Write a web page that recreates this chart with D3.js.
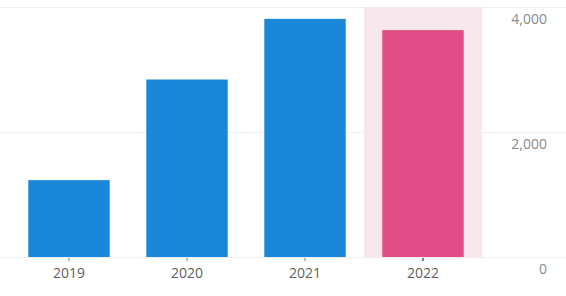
<!DOCTYPE html>
<html>
<head>
<style>
  body { margin: 0; background: #fff; }
  text { font-family: "Open Sans", "Noto Sans", sans-serif; }
</style>
</head>
<body>
<script src="https://cdn.jsdelivr.net/npm/d3@7/dist/d3.min.js"></script>
<script>
  var years = ["2019", "2020", "2021", "2022"];
  var values = [1230, 2840, 3810, 3630];
  var yTicks = [0, 2000, 4000];
  var highlightYear = "2022";

  var W = 566, H = 296;
  var svg = d3.select("body").append("svg")
      .attr("width", W)
      .attr("height", H);

  // band positions: plot runs x 10..482
  var x = d3.scaleBand()
      .domain(years)
      .range([10, 482])
      .paddingInner(0.31)
      .paddingOuter(0.155);
  var xFull = d3.scaleBand().domain(years).range([10, 482]);

  var y = d3.scaleLinear()
      .domain([0, 4000])
      .range([257, 7]);

  // gridlines
  svg.append("g")
    .selectAll("line")
    .data(yTicks)
    .enter().append("line")
      .attr("x1", 0)
      .attr("x2", W)
      .attr("y1", function(d) { return Math.round(y(d)) + 0.5; })
      .attr("y2", function(d) { return Math.round(y(d)) + 0.5; })
      .attr("stroke", "#efefef");

  // highlight band behind the selected year
  svg.append("rect")
      .attr("x", xFull(highlightYear))
      .attr("y", y(4000))
      .attr("width", xFull.bandwidth())
      .attr("height", y(0) - y(4000))
      .attr("fill", "#f9e7ee");

  // bars
  svg.append("g")
    .selectAll("rect")
    .data(years)
    .enter().append("rect")
      .attr("x", function(d) { return x(d); })
      .attr("y", function(d, i) { return y(values[i]); })
      .attr("width", x.bandwidth())
      .attr("height", function(d, i) { return y(0) - y(values[i]); })
      .attr("fill", function(d) { return d == highlightYear ? "#e34d86" : "#1a88d9"; });

  // x axis
  var xAxis = svg.append("g")
      .attr("transform", "translate(0,258)")
      .call(d3.axisBottom(xFull).tickSize(3).tickPadding(7));
  xAxis.select(".domain").remove();
  xAxis.selectAll(".tick line")
      .attr("stroke", function(d) { return d == highlightYear ? "#555" : "#777"; })
      .attr("stroke-width", function(d) { return d == highlightYear ? 1.5 : 1; });
  xAxis.selectAll(".tick text")
      .attr("fill", "#606060")
      .style("font-size", "14px");

  // y axis labels on the right, sitting below each gridline
  svg.append("g")
    .selectAll("text")
    .data(yTicks)
    .enter().append("text")
      .attr("x", 547)
      .attr("y", function(d) { return y(d) + 17; })
      .attr("text-anchor", "end")
      .attr("fill", "#8a8a8a")
      .style("font-size", "14px")
      .text(function(d) { return d3.format(",")(d); });
</script>
</body>
</html>
